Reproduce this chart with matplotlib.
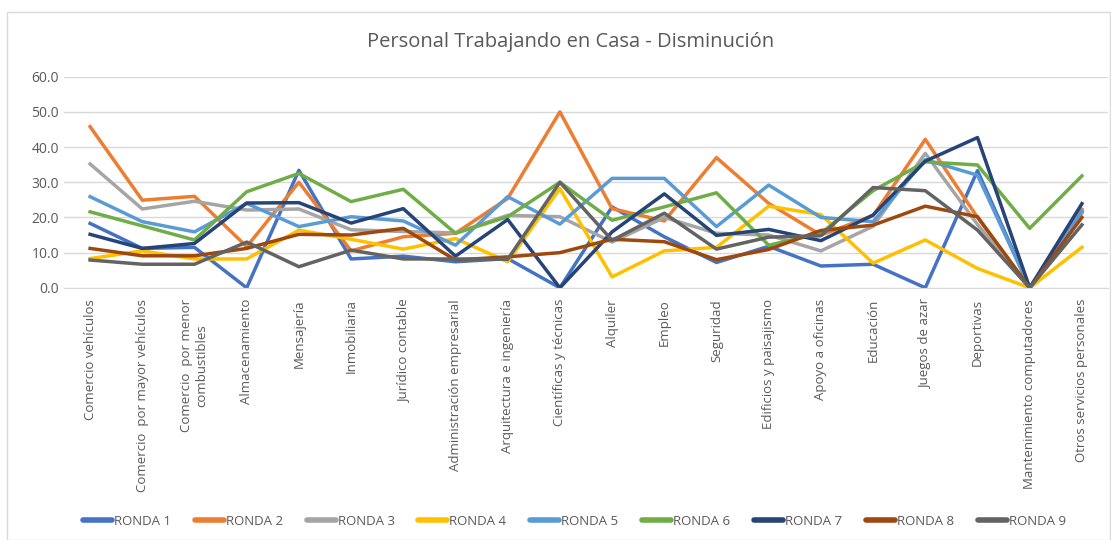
import numpy as np
import matplotlib.pyplot as plt
from matplotlib.patches import Rectangle
from matplotlib.ticker import FormatStrFormatter

# ==============================================================
#                           Data
# ==============================================================
categorias = ["Comercio vehículos", "Comercio  por mayor vehículos",
              "Comercio  por menor\ncombustibles", "Almacenamiento", "Mensajería",
              "Inmobiliaria", "Jurídico contable", "Administración empresarial",
              "Arquitectura e ingeniería", "Científicas y técnicas", "Alquiler",
              "Empleo", "Seguridad", "Edificios y paisajismo", "Apoyo a oficinas",
              "Educación", "Juegos de azar", "Deportivas",
              "Mantenimiento computadores", "Otros servicios personales"]

ronda1 = [18.3, 11.2, 11.5, 0.0, 33.4, 8.2, 9.0, 7.4, 8.3, 0.0, 23.0, 14.5, 7.2, 11.8, 6.2, 6.7, 0.0, 33.3, 0.0, 21.5]
ronda2 = [45.8, 24.9, 26.0, 11.7, 30.0, 10.5, 14.5, 15.5, 25.4, 50.0, 22.5, 19.0, 37.0, 24.0, 15.0, 20.5, 42.2, 20.0, 0.0, 22.3]
ronda3 = [35.2, 22.4, 24.6, 22.1, 22.4, 16.5, 16.0, 15.6, 20.6, 20.2, 13.0, 20.0, 15.5, 15.0, 10.5, 17.5, 38.2, 18.0, 0.0, 21.2]
ronda4 = [8.3, 10.5, 8.2, 8.2, 16.4, 13.8, 11.0, 14.0, 7.4, 28.2, 3.1, 10.5, 11.5, 23.2, 20.8, 7.0, 13.6, 5.5, 0.0, 11.5]
ronda5 = [25.9, 18.8, 15.9, 24.0, 17.4, 20.2, 19.0, 12.1, 25.9, 18.1, 31.1, 31.1, 17.4, 29.2, 20.0, 18.8, 36.4, 32.0, 0.0, 21.8]
ronda6 = [21.6, 17.6, 13.6, 27.3, 32.5, 24.5, 28.0, 15.5, 20.2, 30.0, 19.2, 23.0, 27.0, 12.1, 15.5, 27.6, 35.8, 34.9, 16.9, 31.8]
ronda7 = [15.2, 11.2, 12.6, 24.1, 24.2, 18.4, 22.5, 9.0, 19.4, 0.0, 15.9, 26.7, 14.9, 16.6, 13.4, 20.7, 36.0, 42.7, 0.0, 23.9]
ronda8 = [11.2, 9.1, 9.1, 11.2, 15.2, 15.0, 16.9, 7.9, 8.8, 10.0, 13.8, 13.1, 8.0, 10.9, 16.3, 17.8, 23.2, 20.2, 0.0, 20.0]
ronda9 = [7.9, 6.7, 6.7, 13.0, 6.0, 10.7, 8.2, 8.2, 8.1, 30.0, 13.5, 21.2, 11.0, 14.4, 14.8, 28.5, 27.6, 16.4, 0.0, 17.9]

series = [ronda1, ronda2, ronda3, ronda4, ronda5, ronda6, ronda7, ronda8, ronda9]
nombres = ["RONDA 1", "RONDA 2", "RONDA 3", "RONDA 4", "RONDA 5",
           "RONDA 6", "RONDA 7", "RONDA 8", "RONDA 9"]
colores = ["#4472C4", "#ED7D31", "#A5A5A5", "#FFC000", "#5B9BD5",
           "#70AD47", "#264478", "#9E480E", "#636363"]

# ==============================================================
#                           Plotting
# ==============================================================
plt.rcParams['font.family'] = ['Open Sans', 'DejaVu Sans']
texto = '#595959'

fig = plt.figure(figsize=(11.11, 5.40), dpi=100)
fig.patches.append(Rectangle((0.006, 0.0), 0.993, 0.977, transform=fig.transFigure,
                             fill=False, edgecolor='#D9D9D9', linewidth=1.0))

ax = fig.add_axes([0.0576, 0.467, 0.9397, 0.391])
x = np.arange(len(categorias))
for s, n, c in zip(series, nombres, colores):
    ax.plot(x, s, color=c, linewidth=2.5, label=n, solid_joinstyle='round')

ax.set_xlim(-0.5, len(categorias) - 0.5)
ax.set_ylim(0, 60)
ax.set_yticks(np.arange(0, 61, 10))
ax.yaxis.set_major_formatter(FormatStrFormatter('%.1f'))
ax.grid(axis='y', color='#D9D9D9', linewidth=1.0)
ax.set_axisbelow(True)
for side in ['top', 'right', 'left']:
    ax.spines[side].set_visible(False)
ax.spines['bottom'].set_color('#D9D9D9')
ax.tick_params(axis='both', length=0, colors=texto, labelsize=10)
ax.set_xticks(x)
ax.set_xticklabels(categorias, rotation=90, va='top', ha='center', fontsize=9.5)
ax.tick_params(axis='x', pad=8)

fig.text(0.514, 0.922, 'Personal Trabajando en Casa - Disminución', ha='center', va='center',
         fontsize=14.5, color=texto)

leg = fig.legend(loc='center', bbox_to_anchor=(0.517, 0.035), ncol=9, frameon=False,
                 fontsize=9.5, handlelength=2.2, handletextpad=0.15, columnspacing=1.8)
for t in leg.get_texts():
    t.set_color(texto)
for h in leg.legend_handles:
    h.set_linewidth(4)
    h.set_solid_capstyle('round')

plt.savefig('out.png', dpi=100)
